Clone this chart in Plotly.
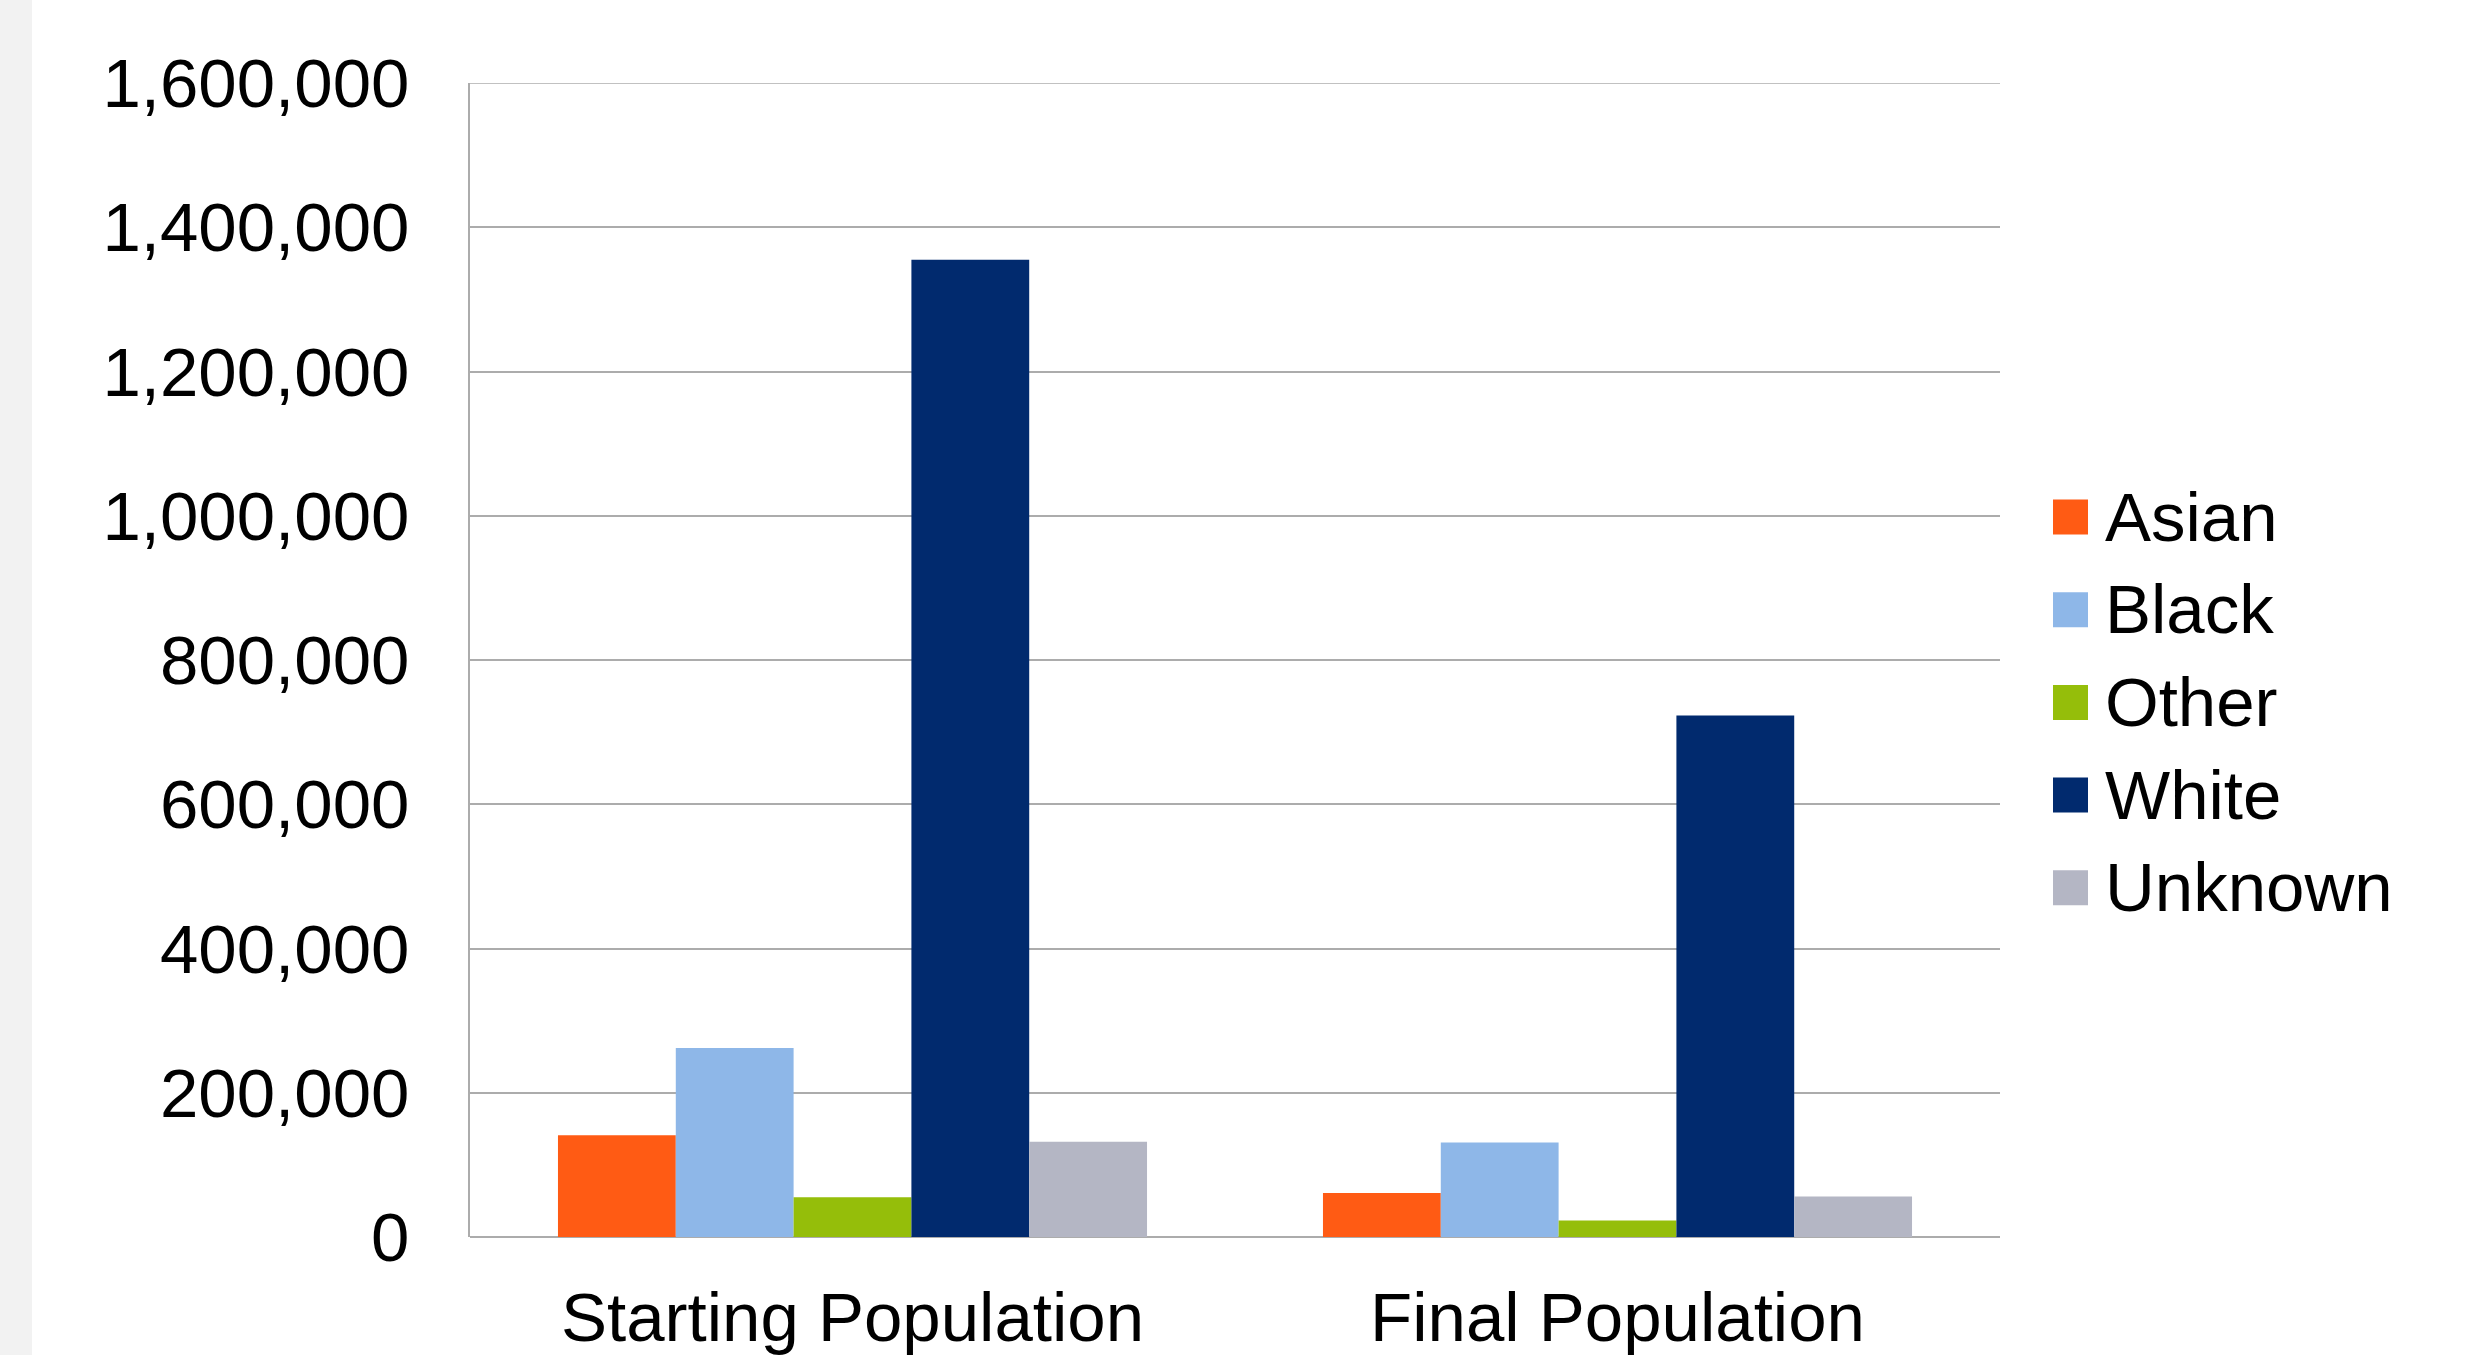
import plotly.graph_objects as go

# Population by race, before and after
categories = ["Starting Population", "Final Population"]
series_names = ["Asian", "Black", "Other", "White", "Unknown"]
asian = [141000, 61000]
black = [262000, 131000]
other = [55000, 23000]
white = [1355000, 723000]
unknown = [132000, 56000]
series_values = [asian, black, other, white, unknown]
colors = ["#ff5b14", "#8eb7e8", "#95be0a", "#012a6e", "#b4b6c4"]

y_ticks = [0, 200000, 400000, 600000, 800000, 1000000, 1200000, 1400000, 1600000]
y_tick_labels = ["0", "200,000", "400,000", "600,000", "800,000",
                 "1,000,000", "1,200,000", "1,400,000", "1,600,000"]

FONT = "Liberation Sans, Arial, sans-serif"
W, H = 2474, 1355
ML, MR, MT, MB = 470, 474, 83, 118
PW = W - ML - MR
PH = H - MT - MB
GRID = "#acacac"
GRID_W = 1.6

fig = go.Figure()
for name, vals, col in zip(series_names, series_values, colors):
    fig.add_trace(go.Bar(
        x=categories, y=vals, name=name,
        marker=dict(color=col, line=dict(width=0)),
        showlegend=False,
    ))

shapes = []
annotations = []

# light grey strip along the left edge of the page
shapes.append(dict(type="rect", xref="paper", yref="paper",
                   x0=-ML / PW, x1=(32 - ML) / PW, y0=-(MB + 5) / PH, y1=(H - MB + 5) / PH,
                   fillcolor="#f2f2f2", line=dict(width=0), layer="below"))

# top gridline at the end of the value range
shapes.append(dict(type="line", xref="paper", yref="y",
                   x0=0, x1=1, y0=y_ticks[-1], y1=y_ticks[-1],
                   line=dict(color=GRID, width=GRID_W), layer="below"))

# legend: square swatch plus label for each series
legend_x0 = 2053
swatch = 35
row_y0 = 517
row_step = 92.7
for i, (name, col) in enumerate(zip(series_names, colors)):
    cy = row_y0 + i * row_step
    x0 = (legend_x0 - ML) / PW
    x1 = (legend_x0 + swatch - ML) / PW
    y0 = (H - MB - (cy + swatch / 2)) / PH
    y1 = (H - MB - (cy - swatch / 2)) / PH
    shapes.append(dict(type="rect", xref="paper", yref="paper",
                       x0=x0, x1=x1, y0=y0, y1=y1,
                       fillcolor=col, line=dict(width=0)))
    annotations.append(dict(xref="paper", yref="paper",
                            x=(2103 - ML) / PW, y=(H - MB - cy) / PH,
                            xanchor="left", yanchor="middle",
                            text=name, showarrow=False,
                            font=dict(family=FONT, size=69, color="black")))

fig.update_layout(
    width=W, height=H,
    margin=dict(l=ML, r=MR, t=MT, b=MB, pad=0),
    paper_bgcolor="white", plot_bgcolor="white",
    barmode="group", bargap=0.23, bargroupgap=0,
    font=dict(family=FONT, size=69, color="black"),
    shapes=shapes, annotations=annotations,
    xaxis=dict(
        automargin=False,
        showgrid=False, showline=False, zeroline=False,
        ticks="", tickfont=dict(family=FONT, size=69, color="black"),
        ticklabelstandoff=34,
    ),
    yaxis=dict(
        automargin=False,
        range=[0, 1600000],
        tickvals=y_ticks, ticktext=y_tick_labels,
        showgrid=True, gridcolor=GRID, gridwidth=GRID_W,
        zeroline=True, zerolinecolor=GRID, zerolinewidth=GRID_W,
        showline=True, linecolor=GRID, linewidth=GRID_W,
        ticks="", tickfont=dict(family=FONT, size=69, color="black"),
        ticklabelstandoff=45,
    ),
)

fig.write_html("out.html")
